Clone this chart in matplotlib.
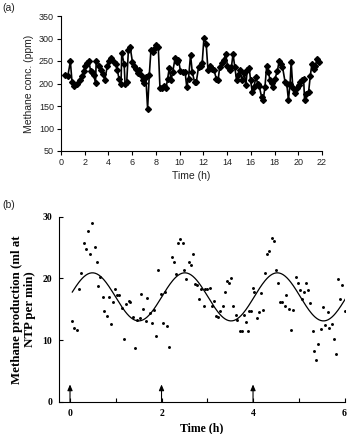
import numpy as np
import matplotlib
matplotlib.use("Agg")
import matplotlib.pyplot as plt

# ---------------- Panel (a) data ----------------
time_a = [0.37, 0.57, 0.79, 0.93, 1.13, 1.36, 1.56, 1.78, 1.92, 2.06, 2.15, 2.35, 2.49, 2.63,
          2.77, 2.91, 2.97, 3.2, 3.34, 3.54, 3.68, 3.9, 4.04, 4.24, 4.47, 4.61, 4.75, 4.89,
          5.06, 5.12, 5.32, 5.4, 5.54, 5.68, 5.83, 6.02, 6.17, 6.3, 6.45, 6.6, 6.73, 6.87,
          7.01, 7.15, 7.3, 7.44, 7.58, 7.72, 7.86, 8.0, 8.2, 8.34, 8.51, 8.71, 8.85, 8.99,
          9.13, 9.28, 9.42, 9.62, 9.76, 9.9, 10.07, 10.27, 10.46, 10.6, 10.75, 10.92, 11.06,
          11.26, 11.4, 11.6, 11.76, 11.9, 12.05, 12.24, 12.39, 12.58, 12.73, 12.9, 13.09,
          13.24, 13.38, 13.6, 13.74, 13.88, 14.03, 14.22, 14.37, 14.5, 14.65, 14.8, 14.93,
          15.07, 15.27, 15.44, 15.58, 15.7, 15.87, 15.98, 16.12, 16.26, 16.43, 16.57, 16.71,
          16.91, 17.05, 17.19, 17.34, 17.48, 17.62, 17.76, 17.9, 18.04, 18.24, 18.38, 18.52,
          18.67, 18.89, 19.03, 19.17, 19.31, 19.4, 19.54, 19.71, 19.88, 20.02, 20.16, 20.31,
          20.45, 20.53, 20.67, 20.87, 21.01, 21.15, 21.3, 21.44, 21.58, 21.72]
methane_a = [218, 216, 249, 203, 194, 198, 207, 216, 228, 240, 245, 251, 228, 226,
             218, 201, 251, 240, 229, 222, 207, 238, 251, 257, 248, 244, 229, 211,
             200, 268, 244, 200, 203, 274, 281, 248, 240, 233, 223, 229, 220, 207,
             201, 214, 144, 218, 274, 270, 277, 286, 281, 191, 189, 194, 189, 211,
             235, 207, 226, 257, 248, 253, 228, 226, 226, 192, 211, 264, 226,
             203, 203, 237, 240, 245, 302, 287, 229, 240, 233, 229, 211,
             207, 237, 245, 253, 266, 240, 229, 237, 266, 237, 207, 218,
             229, 207, 224, 196, 229, 234, 207, 181, 192, 214, 200, 194,
             170, 164, 192, 240, 226, 207, 201, 192, 211, 228, 249, 244,
             237, 203, 200, 163, 200, 248, 191, 179, 191, 196, 203, 207,
             211, 163, 177, 181, 216, 244, 233, 240, 255, 248]
xticks_a = list(range(0, 23, 2))
yticks_a = list(range(50, 351, 50))

# ---------------- Panel (b) data ----------------
time_b = [0.05, 0.09, 0.15, 0.2, 0.25, 0.31, 0.35, 0.39, 0.44, 0.49, 0.54, 0.58, 0.62, 0.66,
          0.72, 0.75, 0.8, 0.85, 0.9, 0.95, 0.98, 1.03, 1.07, 1.13, 1.18, 1.23, 1.28, 1.32,
          1.37, 1.42, 1.46, 1.52, 1.56, 1.6, 1.65, 1.69, 1.74, 1.79, 1.83,
          1.88, 1.93, 1.98, 2.03, 2.08, 2.12, 2.17, 2.23, 2.27, 2.32, 2.36, 2.41, 2.46, 2.5,
          2.54, 2.6, 2.64, 2.68, 2.73, 2.78, 2.83, 2.87, 2.92, 2.96, 3.0, 3.05, 3.11, 3.15,
          3.2, 3.24, 3.28, 3.34, 3.38, 3.43, 3.47, 3.52, 3.57, 3.62, 3.66, 3.71, 3.75, 3.81,
          3.85, 3.89, 3.92, 3.95, 3.99, 4.03, 4.08, 4.13, 4.17, 4.21, 4.27, 4.31, 4.35, 4.41,
          4.46, 4.51, 4.55, 4.59, 4.64, 4.69, 4.73, 4.78, 4.82, 4.88, 4.93, 4.98, 5.03, 5.07,
          5.11, 5.16, 5.21, 5.25, 5.3, 5.33, 5.38, 5.43, 5.48, 5.54, 5.57, 5.63, 5.67, 5.72,
          5.76, 5.81, 5.86, 5.91, 5.95, 6.0, 6.05]
production_b = [13.1, 11.9, 11.6, 18.2, 20.8, 25.8, 24.7, 27.7, 23.9, 29.0, 25.1, 22.7, 18.7, 20.2,
                16.9, 14.7, 13.9, 16.9, 12.6, 16.2, 18.2, 17.3, 17.3, 15.2, 10.1, 15.9, 16.4, 16.2,
                13.7, 8.7, 13.2, 13.6, 17.4, 15.1, 13.1, 16.8, 14.4, 12.8, 14.8,
                10.7, 21.3, 17.5, 12.7, 17.8, 12.3, 8.9, 23.4, 22.7, 20.7, 25.7, 26.4, 25.8, 21.3,
                19.9, 22.6, 22.2, 23.9, 19.1, 19.0, 16.7, 18.2, 15.5, 18.2, 18.3, 18.5, 15.5, 16.3,
                13.9, 13.7, 14.7, 15.6, 17.8, 19.5, 19.2, 20.0, 15.5, 14.0, 13.2, 11.5, 11.5, 14.0,
                13.0, 11.5, 14.7, 14.7, 18.4, 17.8, 13.5, 14.6, 17.6, 14.9, 20.8, 23.9, 24.5, 26.5,
                26.1, 21.3, 19.2, 16.2, 16.1, 15.6, 17.3, 15.1, 11.6, 14.8, 20.2, 19.3, 18.1, 16.6,
                17.8, 19.3, 18.1, 16.0, 11.5, 8.3, 6.7, 9.3, 11.8, 15.3, 12.4, 14.6, 12.0, 12.6,
                10.2, 7.7, 19.9, 16.7, 19.0, 14.7, 13.9]
# fitted cosinor curve parameters
fit_mesor = 17.0
fit_amplitude = 3.9
fit_period = 2.02
fit_peak_time = 0.49
fit_start, fit_end = 0.05, 6.02
arrow_times = [0, 2, 4]
arrow_height = 2.8
xticks_b = list(range(0, 7))
xticklabels_b = ["0", "", "2", "", "4", "", "6"]
yticks_b = [0, 10, 20, 30]

W, H = 350, 434
fig = plt.figure(figsize=(W / 100, H / 100), dpi=100)

sans = ["Liberation Sans", "DejaVu Sans"]
serif = ["Liberation Serif", "DejaVu Serif"]

# ---------------- Panel (a) ----------------
ax1 = fig.add_axes([61 / W, 1 - 151 / H, (322 - 61) / W, (151 - 16) / H])
ax1.plot(time_a, methane_a, color="black", lw=1.2, marker="D", ms=3.0,
         mfc="black", mec="black")
ax1.set_xlim(0, 22)
ax1.set_ylim(50, 350)
ax1.set_xticks(xticks_a)
ax1.set_yticks(yticks_a)
for s in ["top", "right"]:
    ax1.spines[s].set_visible(False)
for s in ["left", "bottom"]:
    ax1.spines[s].set_linewidth(0.8)
ax1.tick_params(direction="out", length=3, width=0.8, labelsize=6.5, pad=2)
for lab in ax1.get_xticklabels() + ax1.get_yticklabels():
    lab.set_family(sans)
    lab.set_color("#222222")
ax1.set_xlabel("Time (h)", family=sans, fontsize=7.5, labelpad=3, color="#222222")
ax1.set_ylabel("Methane conc. (ppm)", family=sans, fontsize=7.5, labelpad=4, color="#222222")
fig.text(2 / W, 1 - 8 / H, "(a)", family=sans, fontsize=7.5, va="center", ha="left",
         color="#222222")

# ---------------- Panel (b) ----------------
ax2 = fig.add_axes([59.3 / W, 1 - 401.7 / H, (345 - 59.3) / W, (401.7 - 216.7) / H])
ax2.scatter(time_b, production_b, s=4.5, color="black", linewidths=0)
tt = np.linspace(fit_start, fit_end, 300)
ax2.plot(tt, fit_mesor + fit_amplitude * np.cos(2 * np.pi * (tt - fit_peak_time) / fit_period),
         color="black", lw=0.9)
for at in arrow_times:
    ax2.annotate("", xy=(at, arrow_height), xytext=(at, 0),
                 arrowprops=dict(arrowstyle="-|>,head_length=0.35,head_width=0.15",
                                 color="black", lw=0.8, shrinkA=0, shrinkB=0))
ax2.set_xlim(-0.234, 6.01)
ax2.set_ylim(0, 30)
ax2.set_xticks(xticks_b)
ax2.set_xticklabels(xticklabels_b)
ax2.set_yticks(yticks_b)
for s in ["top", "right"]:
    ax2.spines[s].set_visible(False)
for s in ["left", "bottom"]:
    ax2.spines[s].set_linewidth(0.8)
ax2.tick_params(direction="in", length=3, width=0.8, labelsize=7, pad=5)
for lab in ax2.get_xticklabels() + ax2.get_yticklabels():
    lab.set_family(serif)
    lab.set_fontweight("bold")
ax2.set_xlabel("Time (h)", family=serif, fontsize=8.5, fontweight="bold", labelpad=3)
ax2.set_ylabel("Methane production (ml at\nNTP per min)", family=serif, fontsize=9.3,
               fontweight="bold", labelpad=5, linespacing=1.05)
fig.text(2 / W, 1 - 205 / H, "(b)", family=sans, fontsize=7.5, va="center", ha="left",
         color="#222222")

fig.savefig("out.png", dpi=100)
